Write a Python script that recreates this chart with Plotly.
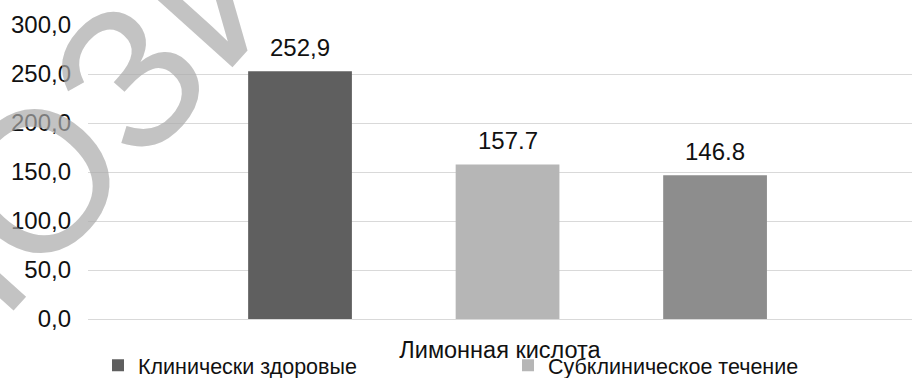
import plotly.graph_objects as go

series_names = ["Клинически здоровые", "Субклиническое течение", "Клиническое течение"]
values = [252.9, 157.7, 146.8]
value_labels = ["252,9", "157.7", "146.8"]
colors = ["#5f5f5f", "#b6b6b6", "#8d8d8d"]
show_in_legend = [True, True, False]
category_title = "Лимонная кислота"
y_ticks = [0, 50, 100, 150, 200, 250, 300]
y_tick_labels = ["0,0", "50,0", "100,0", "150,0", "200,0", "250,0", "300,0"]

FONT = "Liberation Sans, Arial, sans-serif"

fig = go.Figure()
for i, (name, v, c, sl) in enumerate(zip(series_names, values, colors, show_in_legend)):
    fig.add_trace(go.Bar(
        x=[i], y=[v], name=name, marker=dict(color=c, line=dict(width=0)),
        width=0.5, showlegend=sl,
    ))
    fig.add_annotation(x=i, y=v, text=value_labels[i], showarrow=False,
                       yanchor="bottom", yshift=8,
                       font=dict(size=24, color="#111111", family=FONT))

# watermark
fig.add_annotation(xref="paper", yref="paper", x=(118 - 88) / 824, y=(319 - 90) / 294,
                   xanchor="center", yanchor="middle",
                   text="ПОЗИТ", showarrow=False, textangle=-48,
                   font=dict(size=200, color="rgba(170,170,170,0.7)", family=FONT))

fig.update_layout(
    width=912, height=378,
    margin=dict(l=88, r=0, t=25, b=59, autoexpand=False),
    paper_bgcolor="white", plot_bgcolor="white",
    font=dict(family=FONT, size=22, color="#111111"),
    barmode="overlay",
    showlegend=True,
    legend=dict(orientation="h", x=(98 - 88) / 824, xanchor="left", y=-0.088, yanchor="top",
                entrywidth=365, entrywidthmode="pixels",
                font=dict(size=21.5, family=FONT, color="#111111"), itemwidth=30,
                bgcolor="rgba(0,0,0,0)"),
    xaxis=dict(range=[-1.0217, 2.949], showticklabels=False, showgrid=False, zeroline=False,
               showline=False, ticks="",
               title=dict(text=category_title, standoff=22, font=dict(size=23.5, family=FONT))),
    yaxis=dict(range=[0, 300], tickvals=y_ticks, ticktext=y_tick_labels, showgrid=True,
               gridcolor="#d9d9d9", gridwidth=1, zeroline=True, zerolinecolor="#d9d9d9",
               zerolinewidth=1, ticks="", ticklabelstandoff=16,
               tickfont=dict(size=24, family=FONT, color="#111111")),
)

fig.write_html("out.html")
